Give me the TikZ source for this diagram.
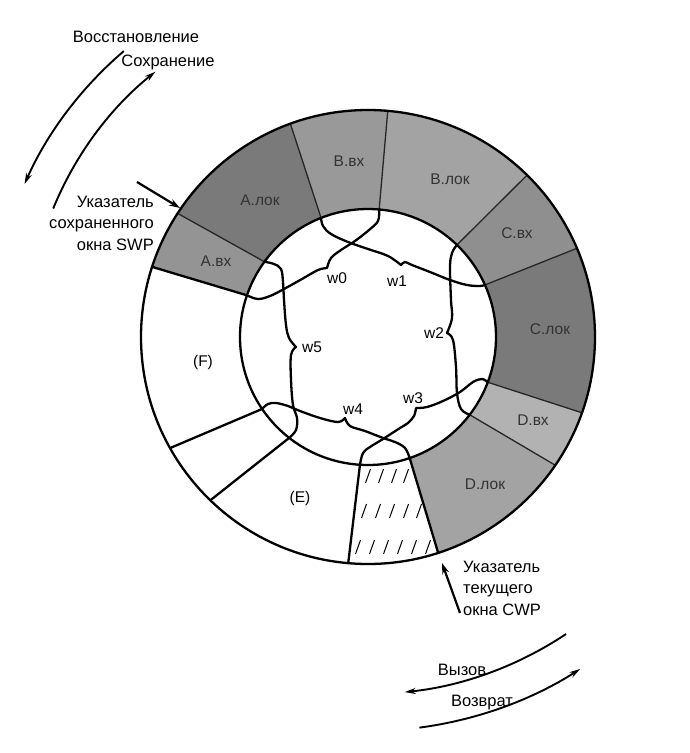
\documentclass[tikz,border=0pt]{standalone}
\usepackage{fontspec}
\setmainfont{Liberation Sans}
\usetikzlibrary{calc,arrows.meta}
\newcommand\rIn{128pt}
\newcommand\rOut{227pt}
\newcommand\ringsector[5]{%
  \fill[#1] ($(C)+(#2:\rIn)$) arc[start angle=#2, end angle=#4, radius=\rIn]
    -- ($(C)+(#5:\rOut)$) arc[start angle=#5, end angle=#3, radius=\rOut] -- cycle;}
\newcommand\hatchmark[2]{\draw[hatch] (#1-2.5,#2+7) -- (#1+2.5,#2-7);}
\newcommand\divider[3]{\draw[#1] ($(C)+(#2:\rIn)$) -- ($(C)+(#3:\rOut)$);}
\definecolor{sAin}{gray}{0.58}
\definecolor{sAloc}{gray}{0.48}
\definecolor{sBin}{gray}{0.60}
\definecolor{sBloc}{gray}{0.64}
\definecolor{sCin}{gray}{0.56}
\definecolor{sCloc}{gray}{0.48}
\definecolor{sDin}{gray}{0.70}
\definecolor{sDloc}{gray}{0.64}
\begin{document}
\begin{tikzpicture}[x=1pt,y=-1pt,
  lbl/.style={font=\fontsize{16.5}{21.5}\selectfont, inner sep=0pt},
  wlbl/.style={font=\fontsize{15.5}{18}\selectfont, inner sep=0pt},
  ringlbl/.style={font=\fontsize{15.5}{18}\selectfont, inner sep=0pt, text=black!80},
  win/.style={line width=2.3pt, line join=round, line cap=round},
  rim/.style={line width=2.3pt},
  divg/.style={line width=1.3pt, black!85},
  divw/.style={line width=2.3pt},
  hatch/.style={line width=1pt},
  curvarr/.style={line width=1.9pt, -{Stealth[length=11pt,width=6pt]}},
  ptr/.style={line width=2.2pt, -{Stealth[length=11pt,width=7pt]}}]

\useasboundingbox (0,0) rectangle (689,753);
\fill[white] (0,0) rectangle (689,753);
\coordinate (C) at (368,337);

% shaded sectors of the ring
\ringsector{sAin}{161}{162}{144}{147}
\ringsector{sAloc}{144}{147}{111.5}{110}
\ringsector{sBin}{111.5}{110}{85}{85}
\ringsector{sBloc}{85}{85}{46}{45.5}
\ringsector{sCin}{46}{45.5}{24}{23}
\ringsector{sCloc}{24}{23}{-20.7}{-19.5}
\ringsector{sDin}{-20.7}{-19.5}{-37.4}{-34.4}
\ringsector{sDloc}{-37.4}{-34.4}{-71}{-72}

% dividers
\divider{divw}{161}{162}
\divider{divg}{144}{147}
\divider{divg}{111.5}{110}
\divider{divg}{85}{85}
\divider{divg}{46}{45.5}
\divider{divg}{24}{23}
\divider{divg}{-20.7}{-19.5}
\divider{divg}{-37.4}{-34.4}
\divider{divw}{-71}{-72}
\divider{divw}{-93.6}{-95}
\divider{divw}{-128}{-134}
\divider{divw}{-145.8}{-150.7}

% circles
\draw[rim] (C) circle[radius=\rOut];
\draw[rim] (C) circle[radius=\rIn];

% inner end points of the dividers
\coordinate (i1) at ($(C)+(161:\rIn)$);
\coordinate (i2) at ($(C)+(144:\rIn)$);
\coordinate (i3) at ($(C)+(111.5:\rIn)$);
\coordinate (i4) at ($(C)+(85:\rIn)$);
\coordinate (i5) at ($(C)+(46:\rIn)$);
\coordinate (i6) at ($(C)+(24:\rIn)$);
\coordinate (i7) at ($(C)+(-20.7:\rIn)$);
\coordinate (i8) at ($(C)+(-37.4:\rIn)$);
\coordinate (i9) at ($(C)+(-71:\rIn)$);
\coordinate (i10) at ($(C)+(-93.6:\rIn)$);
\coordinate (i11) at ($(C)+(-128:\rIn)$);
\coordinate (i12) at ($(C)+(-145.8:\rIn)$);

% hatching of the sector below CWP
\foreach \x in {368,381,394,406} {\hatchmark{\x}{476}}
\foreach \x in {364,378,392,406,419} {\hatchmark{\x}{511}}
\foreach \x in {358,372,386,400,414,428} {\hatchmark{\x}{547}}

% windows
\draw[win] plot[smooth,tension=0.6] coordinates {(i1) (258,299) (270,296) (284,289) (302,279) (318,270) (327,268)}
  -- plot[smooth,tension=0.6] coordinates {(327,268) (331,258) (341,250) (355,241) (369,230) (378,221) (i4)};
\draw[win] plot[smooth,tension=0.6] coordinates {(i3) (323,226) (331,234) (348,242) (368,249) (388,256) (401,265)}
  -- plot[smooth,tension=0.6] coordinates {(401,265) (405,262) (412,265) (430,272) (450,280) (467,285) (480,286) (i6)};
\draw[win] plot[smooth,tension=0.6] coordinates {(i5) (452,253) (450,267) (451,300) (452,318) (447,333)}
  -- plot[smooth,tension=0.6] coordinates {(447,333) (453,340) (456,367) (457,393) (461,409) (i8)};
\draw[win] plot[smooth,tension=0.6] coordinates {(i7) (482,379) (473,382) (460,392) (443,401) (427,407) (416,408)}
  -- plot[smooth,tension=0.6] coordinates {(416,408) (414,416) (408,423) (400,428) (383,439) (370,447) (363,453) (i10)};
\draw[win] plot[smooth,tension=0.6] coordinates {(i9) (405,448) (395,442) (383,438) (365,431) (350,426) (345,418)}
  -- plot[smooth,tension=0.6] coordinates {(345,418) (338,422) (320,418) (300,411) (288,406) (276,403) (268,404) (i12)};
\draw[win] plot[smooth,tension=0.6] coordinates {(i2) (274,264) (281,269) (283,282) (284,300) (286,325) (289,338) (296,347)}
  -- plot[smooth,tension=0.6] coordinates {(296,347) (291,355) (291,380) (293,405) (297,418) (296,430) (i11)};

% window labels
\node[wlbl] (w0) at (337,278) {w0};
\node[wlbl] (w1) at (397,281) {w1};
\node[wlbl] (w2) at (434,333) {w2};
\node[wlbl] (w3) at (413,398) {w3};
\node[wlbl] (w4) at (353,409) {w4};
\node[wlbl] (w5) at (312,347) {w5};

% ring labels
\node[ringlbl] (Ain) at (216,261) {A.вх};
\node[ringlbl] (Aloc) at (260,200) {A.лок};
\node[ringlbl] (Bin) at (349,161) {B.вх};
\node[ringlbl] (Bloc) at (450,179) {B.лок};
\node[ringlbl] (Cin) at (517,233) {C.вх};
\node[ringlbl] (Cloc) at (550,329) {C.лок};
\node[ringlbl] (Din) at (533,420) {D.вх};
\node[ringlbl] (Dloc) at (485,484) {D.лок};
\node[wlbl] (F) at (203,362) {(F)};
\node[wlbl] (E) at (300,498) {(E)};

% outer texts
\node[lbl] (restore) at (136,37) {Восстановление};
\node[lbl] (save) at (168,62) {Сохранение};
\node[lbl, align=right, anchor=east] (swp) at (154,223) {Указатель\\сохраненного\\окна SWP};
\node[lbl, align=left, anchor=west] (cwp) at (463,588) {Указатель\\текущего\\окна CWP};
\node[lbl] (call) at (462,670) {Вызов};
\node[lbl] (ret) at (482,703) {Возврат};

% curved arrows
\draw[curvarr] ($(C)+(130.5:376pt)$) arc[start angle=130.5, end angle=156, radius=376pt];
\draw[curvarr] ($(C)+(157.8:340pt)$) arc[start angle=157.8, end angle=128.7, radius=340pt];
\draw[curvarr] ($(C)+(-56.3:357pt)$) arc[start angle=-56.3, end angle=-84.1, radius=357pt];
\draw[curvarr] ($(C)+(-82.5:394pt)$) arc[start angle=-82.5, end angle=-57.4, radius=394pt];

% pointers
\coordinate (swpTail) at (137,182);
\coordinate (swpTip) at (180,208);
\coordinate (cwpTail) at (460,613);
\coordinate (cwpTip) at (442,563);
\draw[ptr] (swpTail) -- (swpTip);
\draw[ptr] (cwpTail) -- (cwpTip);
\end{tikzpicture}
\end{document}
